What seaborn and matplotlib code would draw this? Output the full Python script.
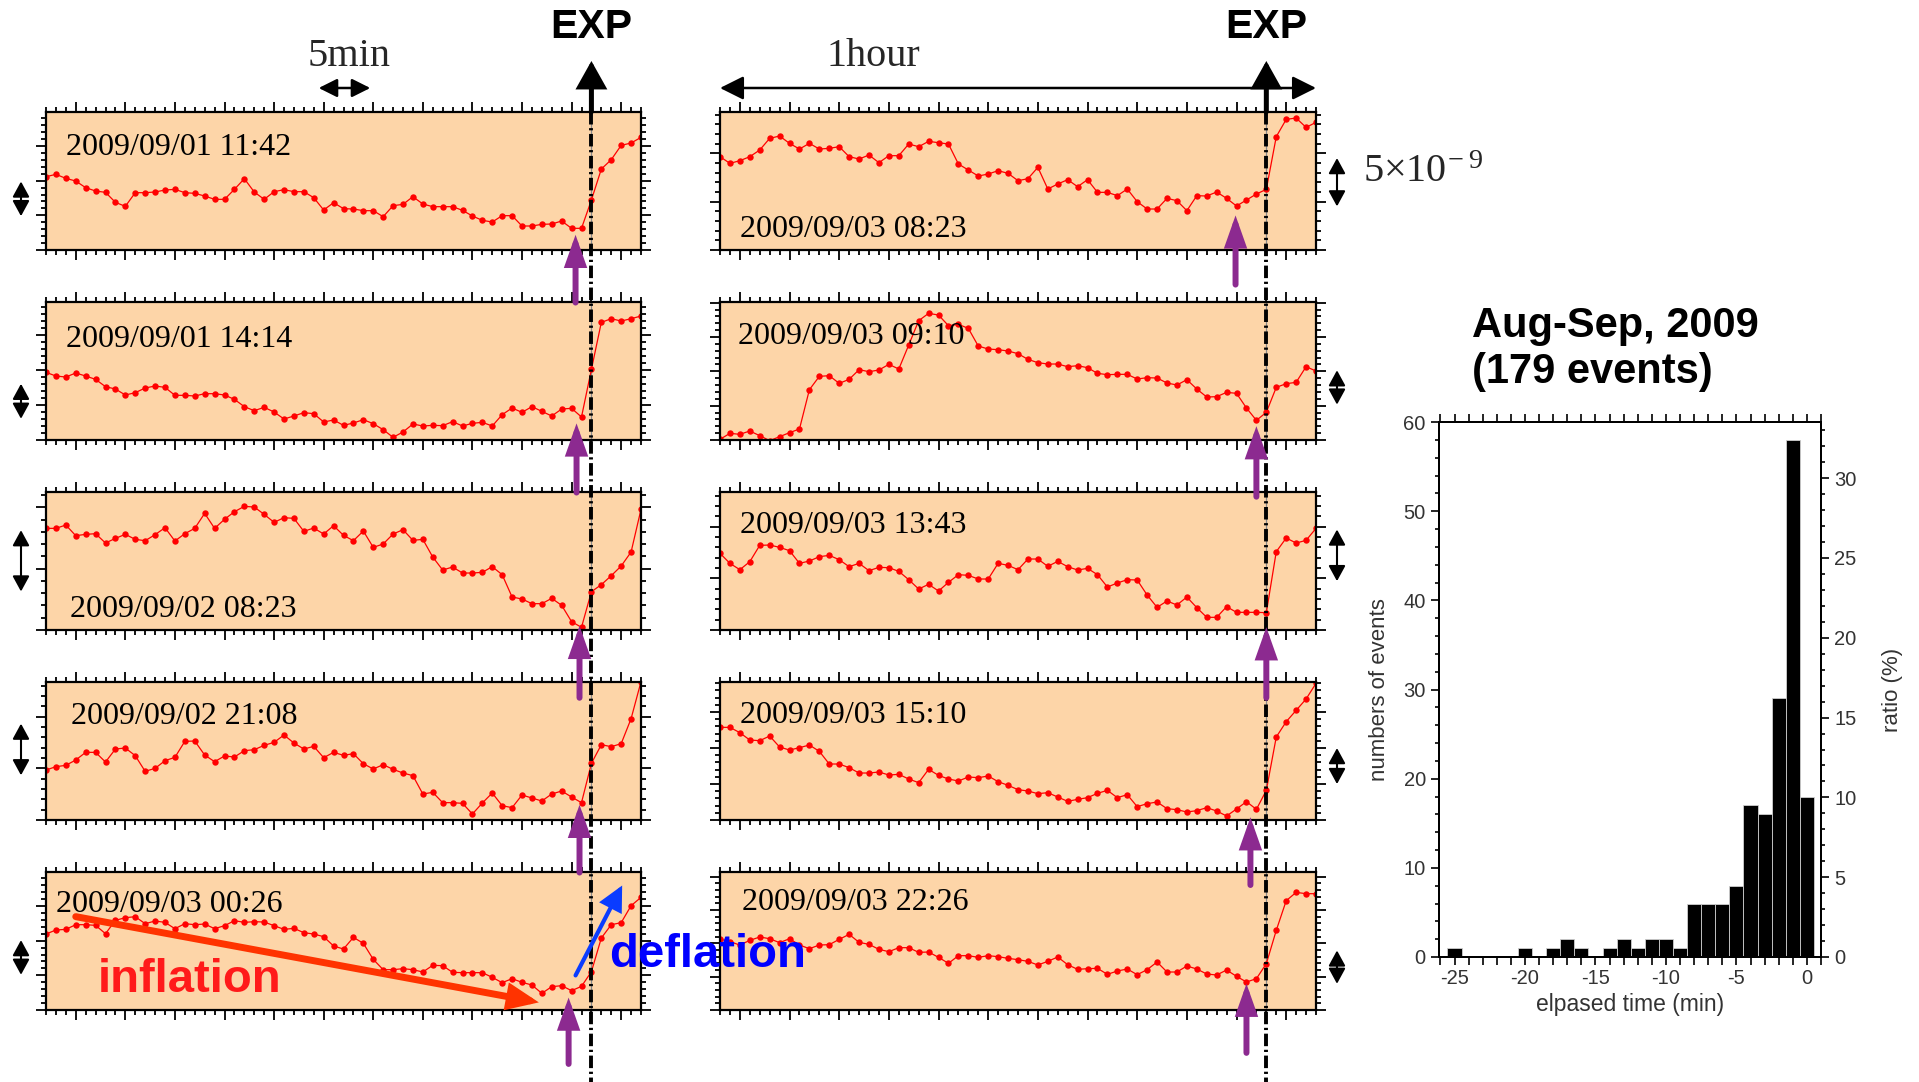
import numpy as np
import pandas as pd
import matplotlib
matplotlib.use("Agg")
import matplotlib.pyplot as plt
import seaborn as sns
from matplotlib.patches import FancyArrowPatch
from matplotlib.lines import Line2D
from matplotlib.transforms import blended_transform_factory as blend
from matplotlib.ticker import MultipleLocator, FixedLocator

# ------------------------------------------------------------------ data
# sample times relative to the explosion (EXP), one sample per minute
minutes = np.arange(61) - 55

dates_left = ["2009/09/01 11:42", "2009/09/01 14:14", "2009/09/02 08:23",
              "2009/09/02 21:08", "2009/09/03 00:26"]
dates_right = ["2009/09/03 08:23", "2009/09/03 09:10", "2009/09/03 13:43",
               "2009/09/03 15:10", "2009/09/03 22:26"]

# tilt records (read in plot units; scale_* gives the units per 5x10^-9)
tilt_l1 = [220, 227, 215, 207, 187, 177, 173, 143, 131, 172, 172, 174, 180, 182, 172, 170, 162, 152, 152, 182,
           214, 174, 152, 175, 181, 175, 175, 157, 120, 142, 124, 123, 118, 118, 100, 133, 137, 160, 138, 130,
           130, 130, 119, 102, 89, 84, 103, 103, 72, 72, 77, 78, 87, 65, 65, 150, 243, 271, 314, 321, 338]
tilt_l2 = [203, 192, 189, 201, 192, 182, 160, 153, 135, 142, 156, 162, 158, 134, 134, 132, 139, 139, 135, 122,
           100, 88, 98, 84, 63, 72, 82, 79, 54, 60, 44, 51, 61, 49, 31, 8, 24, 48, 42, 44,
           43, 55, 42, 50, 53, 42, 76, 96, 83, 100, 86, 72, 93, 95, 69, 212, 353, 364, 357, 364, 372]
tilt_l3 = [305, 305, 315, 283, 287, 289, 261, 275, 287, 272, 268, 286, 307, 267, 289, 305, 350, 305, 332, 355,
           371, 369, 347, 323, 337, 335, 296, 306, 288, 313, 284, 268, 297, 248, 258, 288, 301, 269, 272, 219,
           180, 189, 171, 171, 173, 190, 166, 99, 93, 79, 79, 95, 74, 25, 8, 115, 136, 163, 192, 234, 362]
tilt_l4 = [150, 160, 164, 180, 203, 203, 174, 213, 216, 193, 146, 155, 178, 188, 236, 237, 195, 175, 192, 189,
           208, 211, 224, 233, 255, 231, 213, 221, 187, 203, 194, 199, 169, 153, 166, 152, 141, 133, 78, 83,
           52, 52, 50, 18, 51, 81, 43, 37, 75, 66, 57, 78, 87, 69, 52, 170, 226, 220, 229, 304, 415]
tilt_l5 = [228, 240, 242, 256, 256, 254, 229, 269, 277, 280, 259, 267, 263, 244, 259, 256, 258, 244, 253, 268,
           263, 265, 264, 253, 242, 245, 232, 228, 220, 192, 183, 218, 200, 152, 121, 121, 124, 121, 114, 134,
           133, 113, 112, 112, 112, 98, 82, 94, 83, 75, 50, 70, 73, 58, 71, 115, 216, 256, 262, 313, 338]
tilt_r1 = [280, 260, 268, 280, 300, 335, 342, 320, 303, 320, 303, 305, 310, 280, 273, 285, 262, 283, 283, 318,
           310, 326, 322, 318, 258, 240, 222, 228, 238, 230, 208, 214, 248, 183, 198, 211, 190, 211, 173, 173,
           163, 183, 145, 123, 123, 155, 148, 118, 163, 162, 174, 155, 132, 150, 168, 182, 340, 392, 396, 368, 383]
tilt_r2 = [2, 20, 17, 27, 13, -2, 10, 22, 33, 151, 191, 193, 170, 182, 211, 205, 210, 227, 213, 285,
           358, 380, 375, 343, 347, 335, 282, 273, 271, 267, 259, 242, 232, 228, 228, 220, 223, 217, 200, 196,
           197, 197, 183, 187, 186, 171, 165, 181, 153, 129, 130, 143, 140, 96, 59, 83, 158, 169, 173, 220, 207]
tilt_r3 = [230, 200, 181, 205, 254, 255, 248, 238, 200, 207, 220, 224, 211, 190, 200, 178, 188, 187, 176, 151,
           123, 137, 117, 143, 166, 164, 153, 153, 200, 194, 181, 213, 213, 191, 206, 190, 180, 185, 166, 129,
           141, 151, 150, 105, 68, 87, 75, 99, 67, 38, 38, 70, 53, 53, 53, 52, 235, 276, 261, 269, 305]
tilt_r4 = [278, 278, 262, 240, 238, 252, 219, 210, 217, 225, 206, 168, 168, 157, 141, 141, 144, 135, 137, 123,
           112, 152, 134, 123, 117, 129, 127, 132, 115, 104, 91, 87, 79, 82, 69, 56, 62, 67, 80, 89,
           67, 76, 40, 49, 54, 34, 31, 24, 28, 37, 27, 12, 33, 55, 32, 89, 249, 295, 329, 363, 410]
tilt_r5 = [213, 205, 195, 209, 219, 214, 202, 214, 195, 184, 195, 196, 212, 227, 203, 197, 182, 175, 187, 187,
           173, 174, 158, 140, 163, 163, 158, 163, 160, 155, 151, 146, 135, 146, 159, 136, 122, 124, 125, 107,
           117, 123, 106, 121, 144, 114, 114, 132, 123, 108, 105, 120, 101, 84, 94, 139, 239, 328, 353, 349, 349]

scale_left = [104, 105, 184, 155, 104]
scale_right = [145, 103, 155, 108, 100]

# inflation onset (purple arrows), minutes relative to EXP
onset_left = [-1.6, -1.5, -1.2, -1.2, -2.3]
onset_right = [-3.1, -1.0, 0.0, -1.6, -2.0]

# histogram of onset times
hist_minutes = list(range(-25, 1))
hist_counts = [1, 0, 0, 0, 0, 1, 0, 1, 2, 1, 0, 1, 2, 1, 2, 2, 1, 6, 6, 6, 8, 17, 16, 29, 58, 18]
n_events = 179

# ------------------------------------------------------------------ style
sns.set_theme(style="ticks")
plt.rcParams["font.family"] = ["Liberation Sans", "DejaVu Sans"]
plt.rcParams["axes.unicode_minus"] = False
plt.rcParams["lines.scale_dashes"] = False

W, H = 1919, 1082
fig = plt.figure(figsize=(W / 100, H / 100), dpi=100)
fig.patch.set_facecolor("white")


def fx(px):
    return px / W


def fy(py):
    return 1 - py / H


PEACH = "#FDD5A8"
PURPLE = "#8C2A90"
SERIF = ["Liberation Serif", "DejaVu Serif"]
col_x = [(46, 641), (720, 1316)]
row_top = [111.7 + 190 * k for k in range(5)]
panel_h = 138.3

series = [[tilt_l1, tilt_l2, tilt_l3, tilt_l4, tilt_l5],
          [tilt_r1, tilt_r2, tilt_r3, tilt_r4, tilt_r5]]
scales = [scale_left, scale_right]
dates = [dates_left, dates_right]
onsets = [onset_left, onset_right]

date_pos = [[(-53.0, 0.74), (-53.0, 0.73), (-52.6, 0.15), (-52.5, 0.75), (-54.0, 0.76)],
            [(-53.0, 0.145), (-53.15, 0.75), (-53.0, 0.755), (-53.0, 0.755), (-52.8, 0.775)]]
bar_center = [[0.37, 0.28, 0.50, 0.51, 0.38], [0.49, 0.38, 0.54, 0.39, 0.31]]
bar_x = [21, 1337]
arrow_fr = [[(0.11, -0.38), (0.12, -0.38), (0.03, -0.49), (0.11, -0.38), (0.09, -0.39)],
            [(0.25, -0.25), (0.10, -0.41), (0.02, -0.49), (0.02, -0.47), (0.19, -0.31)]]
major_off = [3, 2]

axes = [[None] * 5 for _ in range(2)]
for c in range(2):
    for r in range(5):
        x0, x1 = col_x[c]
        top = row_top[r]
        ax = fig.add_axes([fx(x0), fy(top + panel_h), fx(x1) - fx(x0), panel_h / H])
        axes[c][r] = ax
        L = scales[c][r]
        df = pd.DataFrame({"minute": minutes,
                           "tilt": np.array(series[c][r], dtype=float) * 5.0 / L})
        ax.set_facecolor(PEACH)
        ax.axvline(0, color="#8a8a8a", lw=0.9, zorder=1)
        sns.lineplot(data=df, x="minute", y="tilt", ax=ax, color="#FF0000", lw=0.9,
                     marker="o", markersize=4.6, markeredgewidth=0, estimator=None,
                     sort=False, zorder=3)
        ax.set_xlim(-55, 5)
        ax.set_ylim(0, 415 * 5.0 / L)
        ax.set_xlabel("")
        ax.set_ylabel("")
        ax.xaxis.set_major_locator(FixedLocator(
            [m for m in range(-55, 6) if (m + 55 - major_off[c]) % 5 == 0]))
        ax.xaxis.set_minor_locator(MultipleLocator(1))
        ax.yaxis.set_major_locator(MultipleLocator(5))
        ax.yaxis.set_minor_locator(MultipleLocator(1))
        ax.tick_params(which="both", direction="out", top=True, right=True,
                       labelbottom=False, labelleft=False, color="black", width=1.3)
        ax.tick_params(which="major", length=7)
        ax.tick_params(which="minor", length=3.5)
        for s in ax.spines.values():
            s.set_linewidth(1.6)
            s.set_color("black")
            s.set_zorder(4)
        dx, dyf = date_pos[c][r]
        ax.text(dx, dyf, dates[c][r], transform=blend(ax.transData, ax.transAxes),
                fontsize=23, family=SERIF, va="center", ha="left", color="black", zorder=5)

        # 5x10^-9 scale bar
        yc = bar_center[c][r] * 415 * 5.0 / L
        sb = FancyArrowPatch((fx(bar_x[c]), yc - 2.5), (fx(bar_x[c]), yc + 2.5),
                             transform=blend(fig.transFigure, ax.transData),
                             arrowstyle="<|-|>,head_length=0.55,head_width=0.3",
                             mutation_scale=17, lw=1.5, color="black",
                             shrinkA=0, shrinkB=0)
        fig.add_artist(sb)

        # purple onset arrow
        tip, tail = arrow_fr[c][r]
        pa = FancyArrowPatch((onsets[c][r], tail), (onsets[c][r], tip),
                             transform=blend(ax.transData, ax.transAxes),
                             arrowstyle="-|>,head_length=0.85,head_width=0.3",
                             mutation_scale=18, lw=4.3, color=PURPLE,
                             shrinkA=0, shrinkB=0, joinstyle="miter", zorder=6)
        fig.add_artist(pa)

# EXP lines and arrows
for c in range(2):
    ax = axes[c][0]
    T = blend(ax.transData, fig.transFigure)
    ln = Line2D([0, 0], [fy(row_top[0]), 0.0], transform=T, color="black", lw=2.8,
                dashes=(9, 2.6, 1.6, 2.6), zorder=5)
    fig.add_artist(ln)
    ea = FancyArrowPatch((0, fy(row_top[0])), (0, fy(61)), transform=T,
                         arrowstyle="-|>,head_length=0.75,head_width=0.42",
                         mutation_scale=20, lw=3.6, color="black",
                         shrinkA=0, shrinkB=0, joinstyle="miter", zorder=6)
    fig.add_artist(ea)
    fig.text(0, fy(27), "EXP", transform=T, fontsize=29.5, weight="bold",
             ha="center", va="center", color="black")

# time scale arrows
axl = axes[0][0]
Tl = blend(axl.transData, fig.transFigure)
fig.add_artist(FancyArrowPatch((-27.5, fy(88)), (-22.3, fy(88)), transform=Tl,
                               arrowstyle="<|-|>,head_length=0.7,head_width=0.35",
                               mutation_scale=16, lw=1.8, color="black",
                               shrinkA=0, shrinkB=0))
fig.text(-24.4, fy(57), "5min", transform=Tl, fontsize=29, family=SERIF,
         ha="center", va="center")
axr1 = axes[1][0]
Tr = blend(axr1.transData, fig.transFigure)
fig.add_artist(FancyArrowPatch((-55, fy(88)), (5, fy(88)), transform=Tr,
                               arrowstyle="<|-|>,head_length=0.8,head_width=0.4",
                               mutation_scale=18, lw=1.8, color="black",
                               shrinkA=0, shrinkB=0))
fig.text(-39.6, fy(57), "1hour", transform=Tr, fontsize=29, family=SERIF,
         ha="center", va="center")
fig.text(fx(1363), fy(173), r"$\mathregular{5{\times}10^{\!-9}}$", fontsize=29,
         family=SERIF, ha="left", va="center")

# inflation / deflation annotation on last left panel
ax5 = axes[0][4]
T5 = blend(ax5.transData, ax5.transAxes)
fig.add_artist(FancyArrowPatch((-52.0, 0.675), (-5.3, 0.055), transform=T5,
                               arrowstyle="-|>,head_length=0.75,head_width=0.32",
                               mutation_scale=20, lw=5.0, color="#FF3300",
                               shrinkA=0, shrinkB=0, joinstyle="miter", zorder=7))
fig.text(-40.5, 0.22, "inflation", transform=T5, fontsize=34, weight="bold",
         color="#FF1A1A", ha="center", va="center", zorder=8)
fig.add_artist(FancyArrowPatch((-1.6, 0.25), (3.1, 0.90), transform=T5,
                               arrowstyle="-|>,head_length=0.9,head_width=0.45",
                               mutation_scale=15, lw=3.0, color="#0A3CFF",
                               shrinkA=0, shrinkB=0, joinstyle="miter", zorder=7))
fig.text(fx(609), fy(955), "deflation", fontsize=34, weight="bold",
         color="#0000FF", ha="left", va="center", zorder=8)

# ------------------------------------------------------------------ histogram
GREY = "#333333"
axh = fig.add_axes([fx(1439), fy(957), fx(1821) - fx(1439), 535 / H])
dfh = pd.DataFrame({"minute": hist_minutes, "count": hist_counts})
sns.barplot(data=dfh, x="minute", y="count", native_scale=True, color="black",
            saturation=1, width=1.0, edgecolor="#cfcfcf", linewidth=0.6,
            errorbar=None, ax=axh)
axh.set_xlim(-26.1, 1.0)
axh.set_ylim(0, 60)
axh.xaxis.set_major_locator(MultipleLocator(5))
axh.xaxis.set_minor_locator(MultipleLocator(1))
axh.yaxis.set_major_locator(MultipleLocator(10))
axh.yaxis.set_minor_locator(MultipleLocator(2))
axh.tick_params(which="both", direction="out", top=True, labeltop=False,
                color="black", width=1.2, labelsize=14.5, labelcolor=GREY)
axh.tick_params(axis="x", which="both", length=5.5)
axh.tick_params(axis="y", which="major", length=6)
axh.tick_params(axis="y", which="minor", length=3)
axh.set_xlabel("elpased time (min)", fontsize=16.5, color=GREY, labelpad=3)
axh.set_ylabel("numbers of events", fontsize=16, color=GREY, labelpad=10)
for s in axh.spines.values():
    s.set_linewidth(1.4)
    s.set_color("black")

axr = axh.twinx()
axr.set_ylim(0, 60 / n_events * 100)
axr.yaxis.set_major_locator(MultipleLocator(5))
axr.yaxis.set_minor_locator(MultipleLocator(1))
axr.tick_params(which="both", direction="out", color="black", width=1.2,
                labelsize=14.5, labelcolor=GREY)
axr.tick_params(which="major", length=6)
axr.tick_params(which="minor", length=3)
axr.set_ylabel("ratio (%)", fontsize=16, color=GREY, labelpad=18)
for s in axr.spines.values():
    s.set_linewidth(1.4)
    s.set_color("black")

fig.text(fx(1472), fy(349), "Aug-Sep, 2009\n(179 events)", fontsize=30,
         weight="bold", ha="left", va="center", linespacing=1.17, color="black")

fig.savefig("out.png", dpi=100, facecolor="white")
